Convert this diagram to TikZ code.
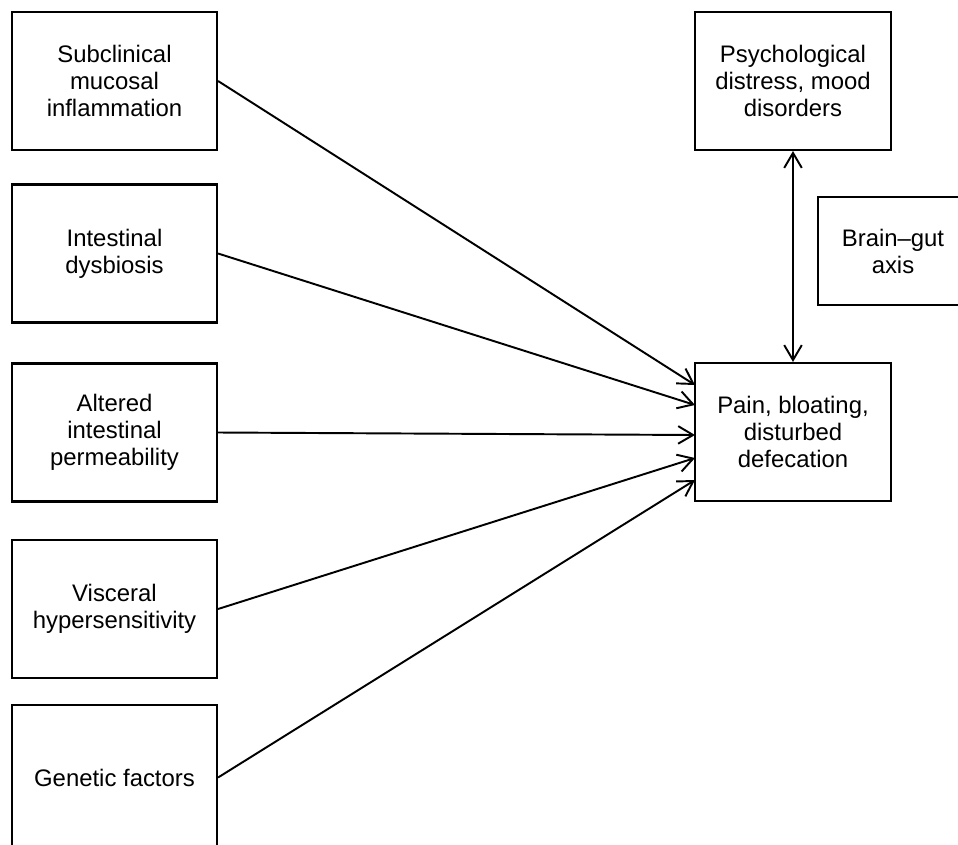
\documentclass[tikz,border=0pt]{standalone}
\usepackage{fontspec}
\setmainfont{Liberation Sans}
\usepackage{tikz}
\usetikzlibrary{arrows.meta}

\begin{document}
\begin{tikzpicture}[%
    cause/.style={%
        draw,
        rectangle,
        line width=1.2pt,
        align=center,
        font=\fontsize{13.6}{15.4}\selectfont,
        minimum width=4.1cm,
        minimum height=2.76cm
    },
    effect/.style={%
        draw,
        rectangle,
        line width=1.2pt,
        align=center,
        font=\fontsize{13.6}{15.4}\selectfont,
        minimum width=3.92cm,
        minimum height=2.76cm
    },
    axisbox/.style={%
        draw,
        rectangle,
        line width=1.2pt,
        align=center,
        font=\fontsize{13.6}{15.4}\selectfont,
        minimum width=3cm,
        minimum height=2.16cm
    },
    link/.style={%
        line width=1.1pt,
        -{Straight Barb[length=8.5pt,width=10pt,line width=1.1pt]}
    },
    twoway/.style={%
        line width=1.1pt,
        {Straight Barb[length=8.5pt,width=10pt,line width=1.1pt]}-{Straight Barb[length=8.5pt,width=10pt,line width=1.1pt]}
    }
]
\useasboundingbox (0,0) rectangle (19.16,-16.88);

% Causes
    \node[cause] (inflammation) at (2.29,-1.62) {Subclinical\\mucosal\\inflammation};
    \node[cause] (dysbiosis) at (2.29,-5.07) {Intestinal\\dysbiosis};
    \node[cause] (permeability) at (2.29,-8.65) {Altered\\intestinal\\permeability};
    \node[cause] (hypersens) at (2.29,-12.18) {Visceral\\hypersensitivity};
    \node[cause,minimum height=2.9cm] (genetic) at (2.29,-15.55) {Genetic factors};

% Symptoms and psyche
    \node[effect] (psych) at (15.86,-1.62) {Psychological\\distress, mood\\disorders};
    \node[effect] (pain) at (15.86,-8.64) {Pain, bloating,\\disturbed\\defecation};
    \node[axisbox] (braingut) at (17.86,-5.02) {Brain--gut\\axis};

% Arrow ends on the symptom box
    \coordinate (in1) at (13.9,-7.70);
    \coordinate (in2) at (13.9,-8.10);
    \coordinate (in3) at (13.9,-8.70);
    \coordinate (in4) at (13.9,-9.16);
    \coordinate (in5) at (13.9,-9.60);

% Arrows
\draw[link] (inflammation.east) -- (in1);
\draw[link] (dysbiosis.east) -- (in2);
\draw[link] (permeability.east) -- (in3);
\draw[link] (hypersens.east) -- (in4);
\draw[link] (genetic.east) -- (in5);

\draw[twoway] (psych.south) -- (pain.north);

\end{tikzpicture}
\end{document}
